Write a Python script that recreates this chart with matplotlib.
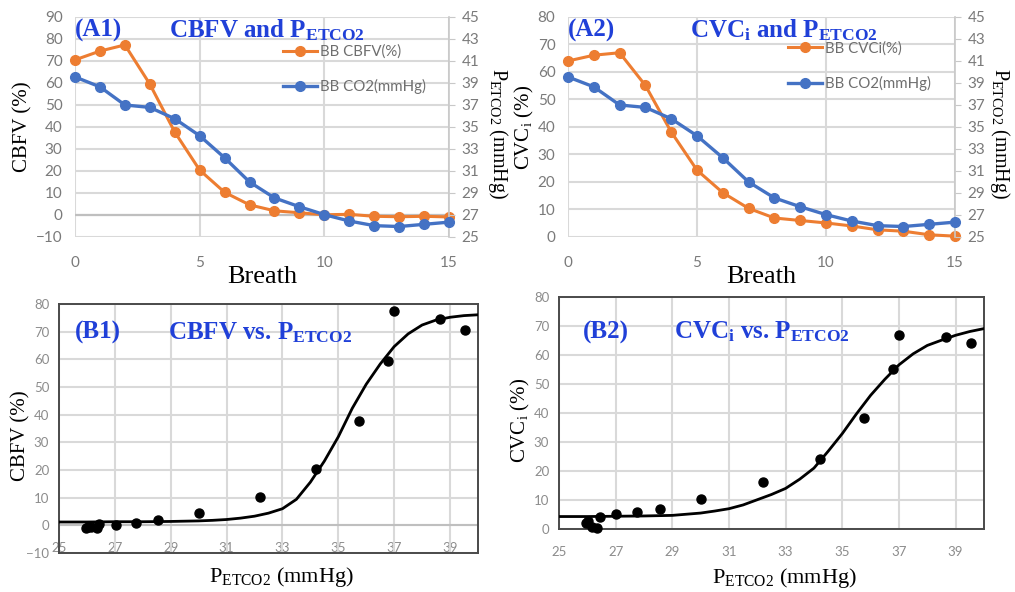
import numpy as np
import matplotlib
matplotlib.use('Agg')
import matplotlib.pyplot as plt

plt.rcParams['mathtext.fontset'] = 'custom'
plt.rcParams['mathtext.rm'] = 'Liberation Serif'
plt.rcParams['mathtext.bf'] = 'Liberation Serif:bold'
plt.rcParams['mathtext.it'] = 'Liberation Serif:italic'

# breath-by-breath data
breath = list(range(16))
petco2 = [39.55, 38.65, 37.0, 36.78, 35.75, 34.2, 32.2, 30.0, 28.55, 27.75,
          27.03, 26.45, 26.03, 25.95, 26.15, 26.35]
cbfv = [70.5, 74.5, 77.3, 59.5, 37.7, 20.4, 10.3, 4.6, 1.9, 1.0,
        0.1, 0.3, -0.6, -0.8, -0.6, -0.9]
cvci = [64.0, 66.1, 67.0, 55.1, 38.2, 24.3, 16.1, 10.4, 6.9, 6.0,
        5.1, 4.0, 2.6, 2.1, 0.8, 0.3]

# fitted sigmoid curves
fit_x = [25, 26, 27, 28, 29, 30, 30.5, 31, 31.5, 32, 32.5, 33, 33.5, 34, 34.5,
         35, 35.5, 36, 36.5, 37, 37.5, 38, 38.5, 39, 39.5, 40]
fit_cbfv = [1.2, 1.2, 1.3, 1.3, 1.4, 1.6, 1.8, 2.1, 2.6, 3.3, 4.4, 6.0, 9.4, 15.6,
            23.2, 32.0, 42.3, 51.0, 58.3, 64.6, 69.2, 72.4, 74.2, 75.2, 75.8, 76.1]
fit_cvci = [4.3, 4.3, 4.4, 4.5, 4.7, 5.5, 6.2, 7.0, 8.3, 10.1, 11.9, 14.0, 17.2,
            21.0, 26.8, 32.9, 39.7, 46.1, 51.6, 56.6, 60.4, 63.3, 65.1, 66.8, 68.1, 69.1]

ORANGE = '#ED7D31'
BLUE = '#4472C4'
TITLE_BLUE = '#2040d8'
GRID = '#d9d9d9'
TICK = '#7a7a7a'
SERIF = 'Liberation Serif'
SANS = 'Lato'

fig = plt.figure(figsize=(10.15, 5.92), dpi=100)


def panel_a(rect, y_vals, ylim, yticks, ylab, leg_lab, tag, title, pos, ylab_x, rlab_x):
    ax = fig.add_axes(rect)
    ax2 = ax.twinx()
    ax.set_xlim(0, 15)
    ax.set_ylim(*ylim)
    ax.set_xticks([0, 5, 10, 15])
    ax.set_yticks(yticks)
    ax2.set_ylim(25, 45)
    ax2.set_yticks(range(25, 46, 2))
    ax.grid(True, color=GRID, lw=1.5)
    ax.set_axisbelow(True)
    for a in (ax, ax2):
        for s in a.spines.values():
            s.set_visible(False)
    ax2.spines['right'].set_visible(True)
    ax2.spines['right'].set_color('#c8c8c8')
    ax2.spines['right'].set_linewidth(1.2)
    if ylim[0] < 0:
        ax.axhline(0, color='#bfbfbf', lw=1.6, zorder=1)
    ax.tick_params(axis='both', length=0, labelsize=11, labelcolor=TICK)
    ax.tick_params(axis='x', pad=14)
    ax.tick_params(axis='y', pad=9)
    ax2.tick_params(axis='y', length=4, color='#c8c8c8', labelsize=11,
                    labelcolor=TICK, pad=5)
    for lab in ax.get_xticklabels() + ax.get_yticklabels() + ax2.get_yticklabels():
        lab.set_family(SANS)

    l1, = ax.plot(breath, y_vals, 'o-', color=ORANGE, lw=2.2, ms=7,
                  clip_on=False, zorder=3, label=leg_lab)
    l2, = ax2.plot(breath, petco2, 'o-', color=BLUE, lw=2.4, ms=7,
                   clip_on=False, zorder=3, label='BB CO2(mmHg)')
    leg = ax2.legend(handles=[l1, l2], loc='upper left', bbox_to_anchor=pos,
                     frameon=False, handlelength=2.3, labelspacing=1.35,
                     handletextpad=0.2, borderpad=0, borderaxespad=0,
                     prop={'family': SANS, 'size': 10.8})
    for t in leg.get_texts():
        t.set_color('#6e6e6e')

    ax.set_xlabel('Breath', family=SERIF, fontsize=19, va='center')
    ax.xaxis.set_label_coords(0.5, -0.18)
    ax.set_ylabel(ylab, family=SERIF, fontsize=15, va='center')
    ax.yaxis.set_label_coords(ylab_x, 0.5)
    ax2.set_ylabel(r'P$_\mathrm{ETCO2}$ (mmHg)', family=SERIF, fontsize=14.5,
                   rotation=270, va='center')
    ax2.yaxis.set_label_coords(rlab_x, 0.47)

    ax.text(0.0, 0.94, tag, transform=ax.transAxes, family=SERIF, fontsize=18,
            fontweight='bold', color=TITLE_BLUE, va='center', ha='left', zorder=5)
    ax.text(title[1], 0.94, title[0], transform=ax.transAxes, family=SERIF,
            fontsize=18, fontweight='bold', color=TITLE_BLUE, va='center',
            ha='left', zorder=5)
    return ax


def panel_b(rect, y_vals, fit_y, ylim, ylab, tag, title, tag_xy, title_x,
            inner_labels, xlab_y):
    ax = fig.add_axes(rect)
    ax.set_xlim(25, 40)
    ax.set_ylim(*ylim)
    ax.set_xticks(range(25, 40, 2))
    ax.set_yticks(range(ylim[0], ylim[1] + 1, 10))
    ax.grid(True, color=GRID, lw=1.5)
    ax.set_axisbelow(True)
    for s in ax.spines.values():
        s.set_color('#4a4a4a')
        s.set_linewidth(1.4)
    if ylim[0] < 0:
        ax.axhline(0, color='#bfbfbf', lw=1.5, zorder=1)
    ax.tick_params(axis='both', length=0, labelsize=9.5, labelcolor='#8c8c8c')
    ax.tick_params(axis='y', pad=7)
    ax.tick_params(axis='x', pad=12)
    if inner_labels:
        ax.tick_params(axis='x', labelbottom=False)
        sec = ax.secondary_xaxis((0 - ylim[0]) / (ylim[1] - ylim[0]))
        sec.set_xticks(range(25, 40, 2))
        sec.spines['bottom'].set_visible(False)
        sec.tick_params(length=0, labelsize=9.5, labelcolor='#8c8c8c', pad=12)
        for lab in sec.get_xticklabels():
            lab.set_family(SANS)
    for lab in ax.get_xticklabels() + ax.get_yticklabels():
        lab.set_family(SANS)

    ax.plot(fit_x, fit_y, '-', color='black', lw=2.0, zorder=3)
    ax.plot(petco2, y_vals, 'o', color='black', ms=6.5, zorder=4, clip_on=False)

    ax.set_xlabel(r'P$_\mathrm{ETCO2}$ (mmHg)', family=SERIF, fontsize=16,
                  va='center')
    ax.xaxis.set_label_coords(0.53, xlab_y)
    ax.set_ylabel(ylab, family=SERIF, fontsize=15, va='center')
    ax.yaxis.set_label_coords(-0.09, 0.47)

    ax.text(tag_xy[0], tag_xy[1], tag, transform=ax.transAxes, family=SERIF,
            fontsize=18, fontweight='bold', color=TITLE_BLUE, va='center')
    ax.text(title_x, tag_xy[1], title, transform=ax.transAxes, family=SERIF,
            fontsize=18, fontweight='bold', color=TITLE_BLUE, va='center')
    return ax


panel_a([0.0739, 0.5997, 0.3685, 0.3716], cbfv, (-10, 90), range(-10, 91, 10),
        'CBFV (%)', 'BB CBFV(%)', '(A1)',
        (r'CBFV and P$_\mathbf{ETCO2}$', 0.25), (0.555, 0.875), -0.14, 1.13)
panel_a([0.5596, 0.5997, 0.3813, 0.3716], cvci, (0, 80), range(0, 81, 10),
        r'CVC$_\mathrm{i}$ (%)', 'BB CVCi(%)', '(A2)',
        (r'CVC$_\mathbf{i}$ and P$_\mathbf{ETCO2}$', 0.315), (0.568, 0.89),
        -0.112, 1.115)

panel_b([0.0581, 0.0659, 0.4128, 0.4206], cbfv, fit_cbfv, (-10, 80),
        'CBFV (%)', '(B1)', r'CBFV vs. P$_\mathbf{ETCO2}$', (0.038, 0.884), 0.26,
        True, -0.096)
panel_b([0.5507, 0.1064, 0.4187, 0.3919], cvci, fit_cvci, (0, 80),
        r'CVC$_\mathrm{i}$ (%)', '(B2)', r'CVC$_\mathbf{i}$ vs. P$_\mathbf{ETCO2}$',
        (0.056, 0.849), 0.27, False, -0.21)

fig.savefig('out.png', dpi=100)
